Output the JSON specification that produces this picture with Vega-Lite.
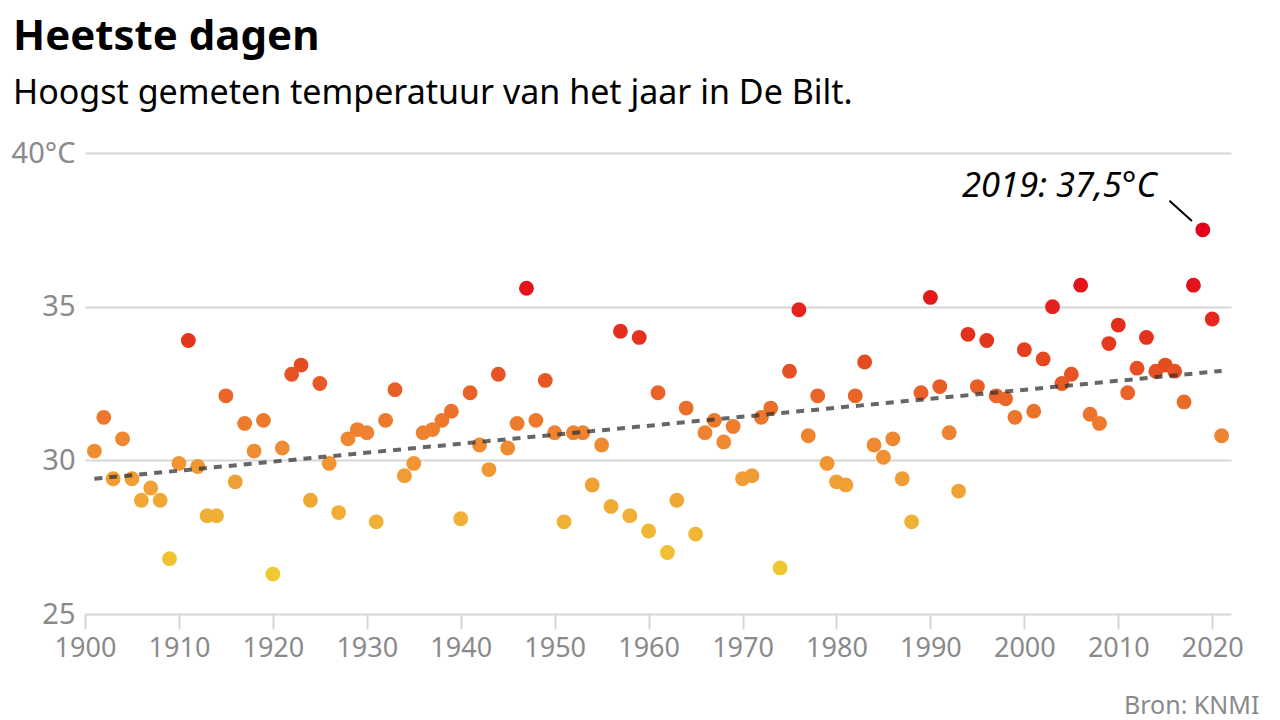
{
  "$schema": "https://vega.github.io/schema/vega-lite/v6.json",
  "width": 1146,
  "height": 461,
  "autosize": {"type": "none"},
  "padding": {"left": 85, "top": 153, "right": 49, "bottom": 106},
  "background": "white",
  "config": {
    "view": {"stroke": null},
    "font": "Noto Sans"
  },
  "title": {
    "text": "Heetste dagen",
    "subtitle": "Hoogst gemeten temperatuur van het jaar in De Bilt.",
    "anchor": "start",
    "frame": "group",
    "dx": -72,
    "offset": 27,
    "fontSize": 42,
    "fontWeight": "bold",
    "color": "#000000",
    "subtitleFontSize": 34,
    "subtitleColor": "#000000",
    "subtitlePadding": 18
  },
  "datasets": {
    "temps": [
      {"year": 1901, "temp": 30.3}, {"year": 1902, "temp": 31.4}, {"year": 1903, "temp": 29.4}, {"year": 1904, "temp": 30.7},
      {"year": 1905, "temp": 29.4}, {"year": 1906, "temp": 28.7}, {"year": 1907, "temp": 29.1}, {"year": 1908, "temp": 28.7},
      {"year": 1909, "temp": 26.8}, {"year": 1910, "temp": 29.9}, {"year": 1911, "temp": 33.9}, {"year": 1912, "temp": 29.8},
      {"year": 1913, "temp": 28.2}, {"year": 1914, "temp": 28.2}, {"year": 1915, "temp": 32.1}, {"year": 1916, "temp": 29.3},
      {"year": 1917, "temp": 31.2}, {"year": 1918, "temp": 30.3}, {"year": 1919, "temp": 31.3}, {"year": 1920, "temp": 26.3},
      {"year": 1921, "temp": 30.4}, {"year": 1922, "temp": 32.8}, {"year": 1923, "temp": 33.1}, {"year": 1924, "temp": 28.7},
      {"year": 1925, "temp": 32.5}, {"year": 1926, "temp": 29.9}, {"year": 1927, "temp": 28.3}, {"year": 1928, "temp": 30.7},
      {"year": 1929, "temp": 31.0}, {"year": 1930, "temp": 30.9}, {"year": 1931, "temp": 28.0}, {"year": 1932, "temp": 31.3},
      {"year": 1933, "temp": 32.3}, {"year": 1934, "temp": 29.5}, {"year": 1935, "temp": 29.9}, {"year": 1936, "temp": 30.9},
      {"year": 1937, "temp": 31.0}, {"year": 1938, "temp": 31.3}, {"year": 1939, "temp": 31.6}, {"year": 1940, "temp": 28.1},
      {"year": 1941, "temp": 32.2}, {"year": 1942, "temp": 30.5}, {"year": 1943, "temp": 29.7}, {"year": 1944, "temp": 32.8},
      {"year": 1945, "temp": 30.4}, {"year": 1946, "temp": 31.2}, {"year": 1947, "temp": 35.6}, {"year": 1948, "temp": 31.3},
      {"year": 1949, "temp": 32.6}, {"year": 1950, "temp": 30.9}, {"year": 1951, "temp": 28.0}, {"year": 1952, "temp": 30.9},
      {"year": 1953, "temp": 30.9}, {"year": 1954, "temp": 29.2}, {"year": 1955, "temp": 30.5}, {"year": 1956, "temp": 28.5},
      {"year": 1957, "temp": 34.2}, {"year": 1958, "temp": 28.2}, {"year": 1959, "temp": 34.0}, {"year": 1960, "temp": 27.7},
      {"year": 1961, "temp": 32.2}, {"year": 1962, "temp": 27.0}, {"year": 1963, "temp": 28.7}, {"year": 1964, "temp": 31.7},
      {"year": 1965, "temp": 27.6}, {"year": 1966, "temp": 30.9}, {"year": 1967, "temp": 31.3}, {"year": 1968, "temp": 30.6},
      {"year": 1969, "temp": 31.1}, {"year": 1970, "temp": 29.4}, {"year": 1971, "temp": 29.5}, {"year": 1972, "temp": 31.4},
      {"year": 1973, "temp": 31.7}, {"year": 1974, "temp": 26.5}, {"year": 1975, "temp": 32.9}, {"year": 1976, "temp": 34.9},
      {"year": 1977, "temp": 30.8}, {"year": 1978, "temp": 32.1}, {"year": 1979, "temp": 29.9}, {"year": 1980, "temp": 29.3},
      {"year": 1981, "temp": 29.2}, {"year": 1982, "temp": 32.1}, {"year": 1983, "temp": 33.2}, {"year": 1984, "temp": 30.5},
      {"year": 1985, "temp": 30.1}, {"year": 1986, "temp": 30.7}, {"year": 1987, "temp": 29.4}, {"year": 1988, "temp": 28.0},
      {"year": 1989, "temp": 32.2}, {"year": 1990, "temp": 35.3}, {"year": 1991, "temp": 32.4}, {"year": 1992, "temp": 30.9},
      {"year": 1993, "temp": 29.0}, {"year": 1994, "temp": 34.1}, {"year": 1995, "temp": 32.4}, {"year": 1996, "temp": 33.9},
      {"year": 1997, "temp": 32.1}, {"year": 1998, "temp": 32.0}, {"year": 1999, "temp": 31.4}, {"year": 2000, "temp": 33.6},
      {"year": 2001, "temp": 31.6}, {"year": 2002, "temp": 33.3}, {"year": 2003, "temp": 35.0}, {"year": 2004, "temp": 32.5},
      {"year": 2005, "temp": 32.8}, {"year": 2006, "temp": 35.7}, {"year": 2007, "temp": 31.5}, {"year": 2008, "temp": 31.2},
      {"year": 2009, "temp": 33.8}, {"year": 2010, "temp": 34.4}, {"year": 2011, "temp": 32.2}, {"year": 2012, "temp": 33.0},
      {"year": 2013, "temp": 34.0}, {"year": 2014, "temp": 32.9}, {"year": 2015, "temp": 33.1}, {"year": 2016, "temp": 32.9},
      {"year": 2017, "temp": 31.9}, {"year": 2018, "temp": 35.7}, {"year": 2019, "temp": 37.5}, {"year": 2020, "temp": 34.6},
      {"year": 2021, "temp": 30.8}
    ],
    "trend": [
      {"year": 1901, "temp": 29.4},
      {"year": 2021, "temp": 32.91}
    ],
    "leader": [
      {"year": 2015.45, "temp": 38.45, "year2": 2017.84, "temp2": 37.79}
    ],
    "annot": [
      {"year": 2019, "temp": 37.5, "label": "2019: 37,5°C"}
    ]
  },
  "encoding": {
    "x": {
      "field": "year",
      "type": "quantitative",
      "scale": {"domain": [1900, 2022], "nice": false, "zero": false},
      "axis": {
        "values": [1900, 1910, 1920, 1930, 1940, 1950, 1960, 1970, 1980, 1990, 2000, 2010, 2020],
        "format": "d",
        "grid": false,
        "domain": false,
        "ticks": true,
        "tickSize": 15,
        "tickWidth": 2,
        "tickColor": "#d6d6d6",
        "labelFontSize": 27,
        "labelColor": "#8a8a8a",
        "labelPadding": 6,
        "labelFlush": false,
        "labelOverlap": false,
        "title": "Bron: KNMI",
        "titleFontSize": 25,
        "titleFontWeight": "normal",
        "titleColor": "#8a8a8a",
        "titleAnchor": "end",
        "titleAlign": "right",
        "titleBaseline": "alphabetic",
        "titleX": 1174,
        "titleY": 99
      }
    },
    "y": {
      "field": "temp",
      "type": "quantitative",
      "scale": {"domain": [25, 40], "nice": false, "zero": false},
      "axis": {
        "values": [25, 30, 35, 40],
        "grid": true,
        "gridColor": "#d6d6d6",
        "gridWidth": 2,
        "domain": false,
        "ticks": false,
        "labelFontSize": 29,
        "labelColor": "#8a8a8a",
        "labelPadding": 10,
        "labelFlush": false,
        "labelExpr": "datum.value == 40 ? '40°C' : datum.label",
        "title": null
      }
    }
  },
  "layer": [
    {
      "data": {"name": "temps"},
      "mark": {"type": "circle", "size": 220, "opacity": 1},
      "encoding": {
        "color": {
          "field": "temp",
          "type": "quantitative",
          "legend": null,
          "scale": {
            "domain": [26.3, 28, 29.5, 31, 32.5, 34, 35.5, 37.5],
            "range": ["#efc930", "#f0b236", "#f09c34", "#ee8030", "#e75a26", "#e4321e", "#e3131b", "#e3001b"]
          }
        }
      }
    },
    {
      "data": {"name": "trend"},
      "mark": {"type": "line", "color": "#333333", "opacity": 0.75, "strokeWidth": 4, "strokeDash": [8, 7]},
      "encoding": {}
    },
    {
      "data": {"name": "leader"},
      "mark": {"type": "rule", "color": "#000000", "strokeWidth": 2},
      "encoding": {
        "x2": {"field": "year2"},
        "y2": {"field": "temp2"}
      }
    },
    {
      "data": {"name": "annot"},
      "mark": {"type": "text", "align": "right", "baseline": "alphabetic", "dx": -46, "dy": -33, "fontSize": 34.5, "fontStyle": "italic", "color": "#000000"},
      "encoding": {
        "text": {"field": "label"}
      }
    }
  ]
}
